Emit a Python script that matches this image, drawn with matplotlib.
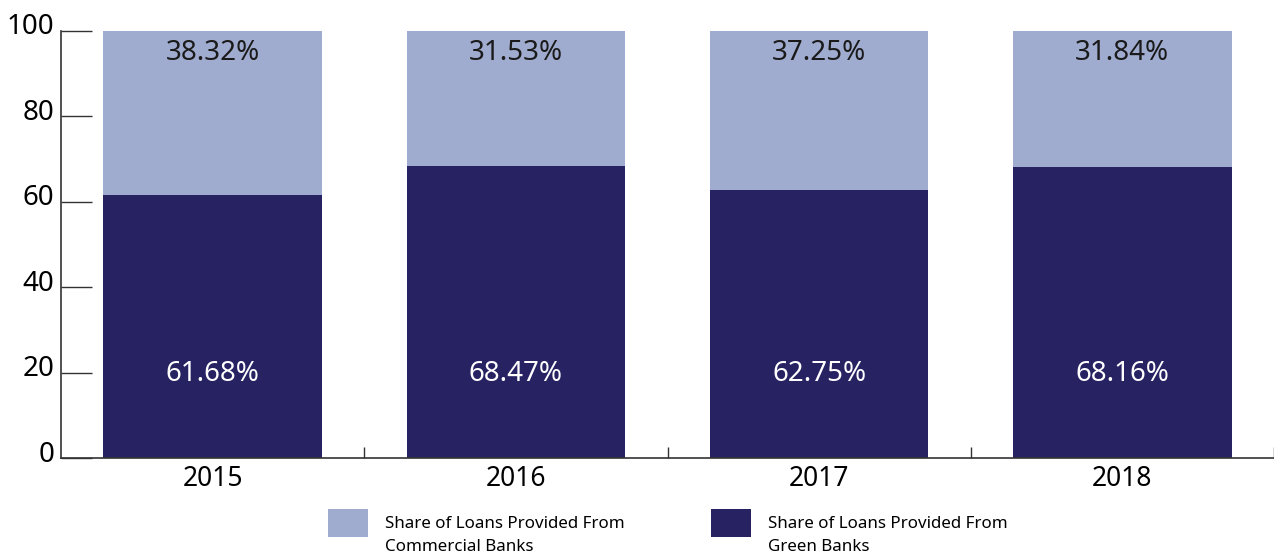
import matplotlib
matplotlib.use("Agg")
import matplotlib.pyplot as plt
import matplotlib.transforms as mtransforms
from matplotlib.legend_handler import HandlerPatch
from matplotlib.patches import Rectangle
import numpy as np

years = ["2015", "2016", "2017", "2018"]
commercial = [38.32, 31.53, 37.25, 31.84]
green = [61.68, 68.47, 62.75, 68.16]
yticks = [0, 20, 40, 60, 80, 100]
legend_labels = ["Share of Loans Provided From\nCommercial Banks",
                 "Share of Loans Provided From\nGreen Banks"]

light = "#A0ACCF"
dark = "#272262"

plt.rcParams['font.family'] = ['Noto Sans', 'DejaVu Sans']

fig = plt.figure(figsize=(12.74, 5.56), dpi=100)
ax = fig.add_axes([61/1274, 1-458/556, 1-61/1274, 427/556])

x = np.arange(len(years))
w = 0.72
b_green = ax.bar(x, green, width=w, color=dark, zorder=2)
b_comm = ax.bar(x, commercial, bottom=green, width=w, color=light, zorder=2)

for i in range(len(years)):
    ax.text(x[i], 94.8, f"{commercial[i]:.2f}%", ha="center", va="center",
            fontsize=20, color="#1a1a1a")
    ax.text(x[i], 19.6, f"{green[i]:.2f}%", ha="center", va="center",
            fontsize=20, color="white")

ax.set_xlim(-0.5, len(years) - 0.5)
ax.set_ylim(0, 100)
ax.set_yticks(yticks)
ax.set_yticklabels([str(v) for v in yticks], fontsize=20)
ax.tick_params(axis="y", direction="in", length=22, width=1, color="#333333", pad=5)
offset = mtransforms.ScaledTranslation(0, 7/100, fig.dpi_scale_trans)
for lbl in ax.get_yticklabels():
    lbl.set_transform(lbl.get_transform() + offset)
ax.set_xticks(x)
ax.set_xticklabels(years, fontsize=19)
ax.tick_params(axis="x", length=0, pad=5)
ax.set_xticks(np.arange(len(years)) + 0.5, minor=True)
ax.tick_params(axis="x", which="minor", direction="in", length=8, width=1, color="#333333")

for s in ["top", "right"]:
    ax.spines[s].set_visible(False)
for s in ["left", "bottom"]:
    ax.spines[s].set_color("#333333")
    ax.spines[s].set_linewidth(1.2)


def raised_patch(legend, orig_handle, xdescent, ydescent, width, height, fontsize):
    return Rectangle((-xdescent, -ydescent + 7.4), width, 19.7)


leg = fig.legend([b_comm[0], b_green[0]], legend_labels, ncol=2, loc="center",
                 bbox_to_anchor=(668/1274, 1-535.5/556), frameon=False,
                 fontsize=12.2, handlelength=2.35, handleheight=1.65,
                 handletextpad=1.0, columnspacing=5.1,
                 handler_map={Rectangle: HandlerPatch(patch_func=raised_patch)})
for t in leg.get_texts():
    t.set_linespacing(1.6)

fig.savefig("out.png", dpi=100)
